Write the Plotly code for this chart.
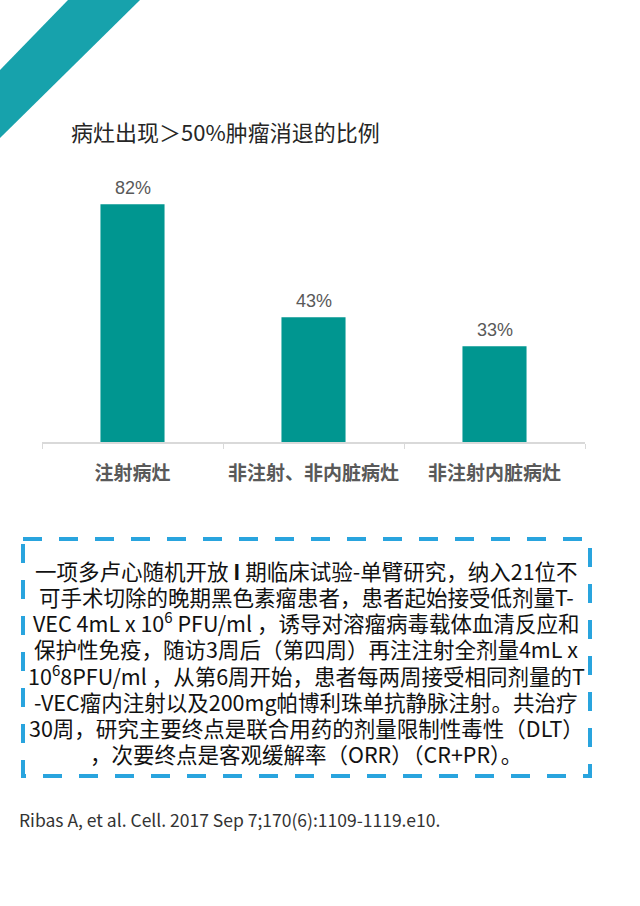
import plotly.graph_objects as go

# Data
categories = ['注射病灶', '非注射、非内脏病灶', '非注射内脏病灶']
values = [82, 43, 33]
value_labels = ['82%', '43%', '33%']

title_text = '病灶出现＞50%肿瘤消退的比例'
box_lines = [
    '一项多卢心随机开放 <b>I</b> 期临床试验-单臂研究，纳入21位不',
    '可手术切除的晚期黑色素瘤患者，患者起始接受低剂量T-',
    'VEC 4mL x 10<sup>6</sup> PFU/ml ，诱导对溶瘤病毒载体血清反应和',
    '保护性免疫，随访3周后（第四周）再注注射全剂量4mL x',
    '10<sup>6</sup>8PFU/ml ，从第6周开始，患者每两周接受相同剂量的T',
    '-VEC瘤内注射以及200mg帕博利珠单抗静脉注射。共治疗',
    '30周，研究主要终点是联合用药的剂量限制性毒性（DLT）',
    '，次要终点是客观缓解率（ORR）（CR+PR）。',
]
citation = 'Ribas A, et al. Cell. 2017 Sep 7;170(6):1109-1119.e10.'

W, H = 640, 906
CJK = 'Noto Sans CJK SC'


def px(x):
    return x / W


def py(y):
    return 1 - y / H


fig = go.Figure(go.Bar(
    x=categories,
    y=values,
    marker_color='#009690',
    marker_line_width=0,
    hoverinfo='skip',
))

annotations = []
# value labels above bars
for c, v, t in zip(categories, values, value_labels):
    annotations.append(dict(
        x=c, y=v, xref='x', yref='y', text=t, showarrow=False,
        yanchor='middle', yshift=16,
        font=dict(family='Liberation Sans, Arial', size=18, color='#595959'),
    ))

annotations.append(dict(
    x=px(69), y=py(131), xref='paper', yref='paper', text=title_text,
    showarrow=False, xanchor='left', yanchor='middle',
    font=dict(family=CJK, size=22, color='#262626'),
))

for i, line in enumerate(box_lines):
    annotations.append(dict(
        x=px(306), y=py(570 + 26.2 * i), xref='paper', yref='paper', text=line,
        showarrow=False, xanchor='center', yanchor='middle',
        font=dict(family=CJK, size=21.5, color='#111111'),
    ))

annotations.append(dict(
    x=px(17), y=py(819), xref='paper', yref='paper', text=citation,
    showarrow=False, xanchor='left', yanchor='middle',
    font=dict(family=CJK, size=17.5, color='#333333'),
))

shapes = [
    # diagonal band in the top-left corner
    dict(type='path', xref='paper', yref='paper',
         path=f'M {px(68)} {py(0)} L {px(140)} {py(0)} L {px(0)} {py(138)} L {px(0)} {py(70)} Z',
         fillcolor='#17A2AC', line_width=0, layer='below'),
    # dashed box
    dict(type='rect', xref='paper', yref='paper',
         x0=px(23), y0=py(539), x1=px(590), y1=py(776),
         line=dict(color='#29A4DE', width=4, dash='19px,17px'),
         fillcolor='rgba(0,0,0,0)'),
]

fig.update_layout(
    width=W, height=H,
    margin=dict(l=0, r=0, t=0, b=0, autoexpand=False),
    paper_bgcolor='white', plot_bgcolor='white',
    showlegend=False,
    bargap=0.646,
    annotations=annotations,
    shapes=shapes,
    xaxis=dict(
        domain=[px(42), px(585)],
        showline=True, linecolor='#D9D9D9', linewidth=1.5,
        ticks='outside', tickson='boundaries', ticklen=5, tickcolor='#D9D9D9',
        ticklabelstandoff=13,
        tickfont=dict(family=CJK, size=19, color='#595959', weight='bold'),
        showgrid=False, zeroline=False, fixedrange=True,
    ),
    yaxis=dict(
        domain=[py(442), py(152)],
        range=[0, 100],
        visible=False, showgrid=False, zeroline=False, fixedrange=True,
    ),
)

fig.write_html('out.html', config={'displayModeBar': False},
               post_script="document.body.style.margin='0';")
